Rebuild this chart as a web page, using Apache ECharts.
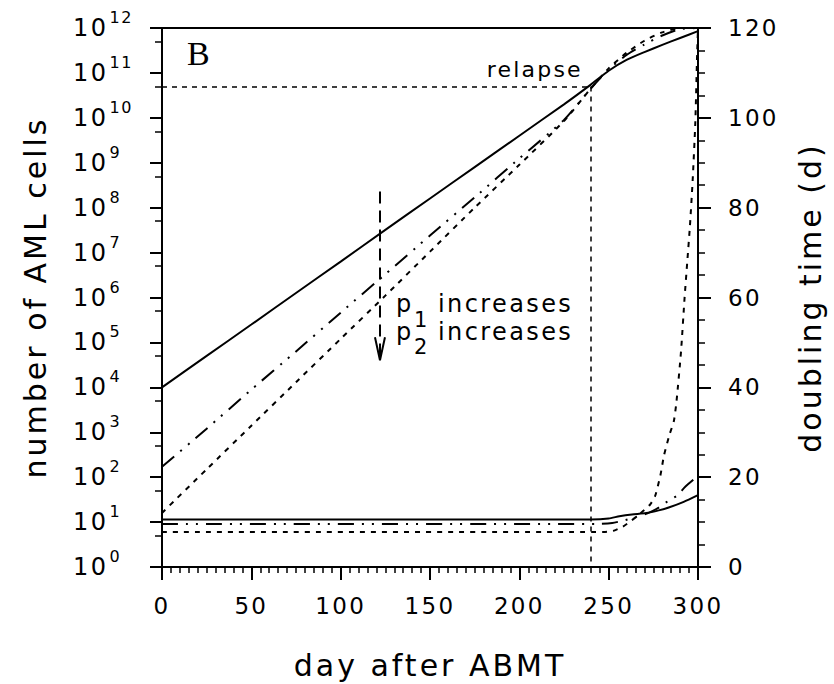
<!DOCTYPE html>
<html><head><meta charset="utf-8">
<script src="https://cdn.jsdelivr.net/npm/echarts@6/dist/echarts.min.js"></script>
<style>
html,body{margin:0;padding:0;background:#fff;}
#c{width:834px;height:684px;}
#c text{letter-spacing:0.1em;}
</style></head>
<body><div id="c"></div>
<script>
// ---- data ----
const cellDays = [0,25,50,75,100,125,150,175,200,225,240,250,260,270,280,290,300];
const cellsSolid   = [1e4,5e4,2.5e5,1.26e6,6.3e6,3.2e7,1.6e8,8e8,4e9,2e10,5.5e10,1.12e11,1.95e11,2.9e11,4.2e11,6e11,8.5e11];
const cellsDashDot = [1.7e2,1.2e3,8.9e3,6.3e4,4.6e5,3.3e6,2.4e7,1.7e8,1.25e9,9e9,4.5e10,1.2e11,2.5e11,4.3e11,6.8e11,9.5e11,1e12];
const cellsDashed  = [16,150,1.4e3,1.3e4,1.2e5,1.1e6,1.05e7,1e8,9e8,8.5e9,4.5e10,1.26e11,2.8e11,5.2e11,8e11,1e12,1e12];

const dtSolidDays = [0,240,250,256,263,271,278,284,292,300];
const dtSolid     = [10.6,10.6,10.8,11.3,11.7,12.0,12.6,13.3,14.5,16.0];
const dtDashDotDays = [0,245,252,258,265,272,278,284,288,293,300];
const dtDashDot     = [9.6,9.6,9.8,10.3,11.1,12.0,13.2,14.9,15.8,17.9,20.3];
const dtDashedDays = [0,248,253,258,263,268,273,276,279,281,284,286.5,288,290.5,292.5,294,295.5,297,298.5,299.5,300];
const dtDashed     = [7.8,7.8,8.1,9.0,10.4,12.0,13.8,15.8,20.5,24.9,29.4,32.5,37,48,60,68,76,86,99,114,120];

// left axis tick labels are powers of ten: exponents 0..12
const leftTickExpMin = 0;
const leftTickExpMax = 12;
const leftMinorTickExp = [0.699,1.699,2.699,3.699,4.699,5.699,6.699,7.699,8.699,9.699,10.699,11.699];

const relapseDay = 240;
const relapseLevel = 5e10;
const arrowDay = 122;
const arrowFrom = 2.3e8;
const arrowTo = 4e4;

const FONT = 'DejaVu Sans';
const pairs = (xs, ys) => xs.map((x, i) => [x, ys[i]]);

const chart = echarts.init(document.getElementById('c'), null, {renderer: 'svg'});
const black = '#000';
const lineBase = {type: 'line', symbol: 'none', showSymbol: false, silent: true, smooth: 0.2, clip: true};

chart.setOption({
  animation: false,
  backgroundColor: '#fff',
  grid: {left: 162, top: 28, right: 136, bottom: 117, show: true, borderColor: black, borderWidth: 2, outerBoundsMode: 'none', containLabel: false},
  xAxis: {
    type: 'value', min: 0, max: 300, interval: 50,
    name: 'day after ABMT', nameLocation: 'middle', nameGap: 83, nameMoveOverlap: false,
    nameTextStyle: {fontFamily: FONT, fontSize: 30, color: black},
    axisLine: {show: true, onZero: false, lineStyle: {color: black, width: 2}},
    axisTick: {show: true, inside: false, length: 13, lineStyle: {color: black, width: 2}},
    minorTick: {show: true, splitNumber: 10, length: 6, lineStyle: {color: black, width: 1.5}},
    axisLabel: {fontFamily: FONT, fontSize: 23, color: black, margin: 27},
    splitLine: {show: false}, minorSplitLine: {show: false}
  },
  yAxis: [
    {
      type: 'log', logBase: 10, min: 1, max: 1e12, position: 'left',
      name: 'number of AML cells', nameLocation: 'middle', nameGap: 112, nameRotate: 90, nameMoveOverlap: false,
      nameTextStyle: {fontFamily: FONT, fontSize: 30, color: black},
      axisLine: {show: true, lineStyle: {color: black, width: 2}},
      axisTick: {show: false},
      axisLabel: {show: false},
      splitLine: {show: false}
    },
    {
      type: 'value', min: 0, max: 120, interval: 20, position: 'right',
      name: 'doubling time (d)', nameLocation: 'middle', nameGap: 97, nameRotate: 90, nameMoveOverlap: false,
      nameTextStyle: {fontFamily: FONT, fontSize: 30, color: black},
      axisLine: {show: true, lineStyle: {color: black, width: 2}},
      axisTick: {show: true, length: 13, lineStyle: {color: black, width: 2}},
      minorTick: {show: true, splitNumber: 4, length: 7, lineStyle: {color: black, width: 1.5}},
      axisLabel: {fontFamily: FONT, fontSize: 23, color: black, margin: 30, align: 'left'},
      splitLine: {show: false}, minorSplitLine: {show: false}
    },
    {
      // exponent axis overlaying the log axis: major ticks + 10^k labels
      type: 'value', min: leftTickExpMin, max: leftTickExpMax, interval: 1, position: 'left',
      axisLine: {show: false},
      axisTick: {show: true, length: 12, lineStyle: {color: black, width: 2}},
      axisLabel: {
        margin: 89, align: 'left',
        formatter: v => '{b|10}{s|' + v + '}',
        rich: {
          b: {fontFamily: FONT, fontSize: 24, lineHeight: 37, color: black},
          s: {fontFamily: FONT, fontSize: 16, lineHeight: 16, verticalAlign: 'top', color: black, padding: [0, 0, 0, 6]}
        }
      },
      splitLine: {show: false}
    },
    {
      // minor ticks at 5 x 10^k
      type: 'value', min: leftTickExpMin, max: leftTickExpMax, position: 'left',
      axisLine: {show: false},
      axisLabel: {show: false},
      axisTick: {show: true, length: 7, customValues: leftMinorTickExp, lineStyle: {color: black, width: 1.5}},
      splitLine: {show: false}
    }
  ],
  series: [
    Object.assign({}, lineBase, {
      name: 'cells solid', yAxisIndex: 0, data: pairs(cellDays, cellsSolid),
      lineStyle: {color: black, width: 2, type: 'solid'},
      markLine: {
        silent: true, symbol: ['none', 'none'], label: {show: false},
        lineStyle: {color: black, width: 1.5, type: [5, 5]},
        data: [
          [{coord: [0, relapseLevel]}, {coord: [relapseDay, relapseLevel]}],
          [{coord: [relapseDay, relapseLevel]}, {coord: [relapseDay, 1]}],
          [{coord: [arrowDay, arrowFrom], lineStyle: {type: [12, 7], width: 2}}, {coord: [arrowDay, arrowTo]}]
        ]
      }
    }),
    Object.assign({}, lineBase, {
      name: 'cells dashdot', yAxisIndex: 0, data: pairs(cellDays, cellsDashDot),
      lineStyle: {color: black, width: 2, type: [16, 8, 2, 8, 2, 8]}
    }),
    Object.assign({}, lineBase, {
      name: 'cells dashed', yAxisIndex: 0, data: pairs(cellDays, cellsDashed),
      lineStyle: {color: black, width: 2, type: [5, 6]}
    }),
    Object.assign({}, lineBase, {
      name: 'dt solid', yAxisIndex: 1, data: pairs(dtSolidDays, dtSolid),
      lineStyle: {color: black, width: 2, type: 'solid'}
    }),
    Object.assign({}, lineBase, {
      name: 'dt dashdot', yAxisIndex: 1, data: pairs(dtDashDotDays, dtDashDot),
      lineStyle: {color: black, width: 2, type: [16, 8, 2, 8, 2, 8]}
    }),
    Object.assign({}, lineBase, {
      name: 'dt dashed', yAxisIndex: 1, data: pairs(dtDashedDays, dtDashed),
      lineStyle: {color: black, width: 2, type: [5, 6]}
    })
  ]
});

// annotations placed via the chart's own coordinate conversion
const toPx = (x, y) => chart.convertToPixel({xAxisIndex: 0, yAxisIndex: 0}, [x, y]);
const tip = toPx(arrowDay, arrowTo);
const rel = toPx(relapseDay, relapseLevel);
const corner = toPx(0, 1e12);
const txt = (x, y, s, size, align, fam) => ({
  type: 'text', x: x, y: y, silent: true,
  style: {text: s, fill: black, fontFamily: fam || FONT, fontSize: size, align: align || 'left', verticalAlign: 'middle'}
});
chart.setOption({
  graphic: [
    {type: 'polyline', silent: true, shape: {points: [[tip[0] - 5, tip[1] - 23], [tip[0], tip[1]], [tip[0] + 5, tip[1] - 23]]}, style: {stroke: black, lineWidth: 2, fill: null}},
    txt(rel[0] - 8, rel[1] - 17, 'relapse', 22, 'right'),
    txt(corner[0] + 38, corner[1] + 25, 'B', 34, 'center', 'Liberation Serif'),
    txt(tip[0] + 16, 304, 'p', 24),
    txt(tip[0] + 34, 320, '1', 21),
    txt(tip[0] + 58, 304, 'increases', 24),
    txt(tip[0] + 16, 332, 'p', 24),
    txt(tip[0] + 34, 347, '2', 21),
    txt(tip[0] + 58, 332, 'increases', 24)
  ]
});
</script>
</body></html>
